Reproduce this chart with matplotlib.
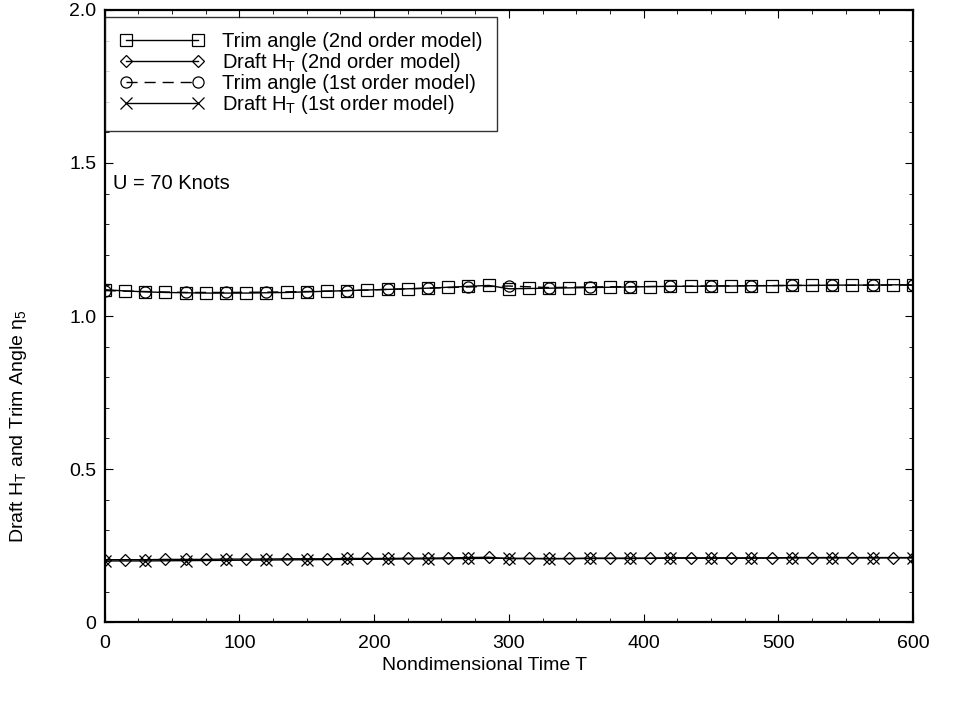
import numpy as np
import matplotlib.pyplot as plt
from matplotlib.ticker import MultipleLocator

plt.rcParams['font.family'] = ['Liberation Sans', 'DejaVu Sans']
plt.rcParams['mathtext.fontset'] = 'custom'
plt.rcParams['mathtext.rm'] = 'Liberation Sans'
plt.rcParams['mathtext.it'] = 'Liberation Sans'

# -----------------------------
# DATA
# -----------------------------
t_2nd = [0, 15, 30, 45, 60, 75, 90, 105, 120, 135, 150, 165, 180, 195, 210,
         225, 240, 255, 270, 285, 300, 315, 330, 345, 360, 375, 390, 405, 420,
         435, 450, 465, 480, 495, 510, 525, 540, 555, 570, 585, 600]
trim_2nd = [1.086, 1.082, 1.079, 1.077, 1.076, 1.075, 1.075, 1.075, 1.076, 1.077,
            1.079, 1.081, 1.083, 1.085, 1.087, 1.089, 1.091, 1.094, 1.097, 1.100,
            1.089, 1.090, 1.091, 1.092, 1.093, 1.094, 1.095, 1.096, 1.097, 1.097,
            1.098, 1.098, 1.099, 1.099, 1.100, 1.100, 1.101, 1.101, 1.101, 1.102, 1.102]
draft_2nd = [0.204, 0.204, 0.204, 0.205, 0.205, 0.205, 0.206, 0.206, 0.206, 0.207,
             0.207, 0.207, 0.208, 0.208, 0.208, 0.209, 0.209, 0.210, 0.211, 0.212,
             0.207, 0.208, 0.208, 0.208, 0.209, 0.209, 0.209, 0.209, 0.210, 0.210,
             0.210, 0.210, 0.210, 0.210, 0.211, 0.211, 0.211, 0.211, 0.211, 0.211, 0.211]

t_1st = [0, 30, 60, 90, 120, 150, 180, 210, 240, 270, 300, 330, 360, 390, 420,
         450, 480, 510, 540, 570, 600]
trim_1st = [1.083, 1.080, 1.077, 1.077, 1.078, 1.080, 1.083, 1.087, 1.091, 1.095,
            1.098, 1.093, 1.095, 1.096, 1.097, 1.098, 1.099, 1.100, 1.100, 1.101, 1.101]
draft_1st = [0.200, 0.200, 0.201, 0.202, 0.203, 0.204, 0.205, 0.206, 0.207, 0.208,
             0.209, 0.207, 0.208, 0.208, 0.209, 0.209, 0.209, 0.210, 0.210, 0.210, 0.210]

FS = 14.5

# -----------------------------
# PLOT
# -----------------------------
fig = plt.figure(figsize=(9.61, 7.07), dpi=100)
ax = fig.add_axes([0.109, 0.120, 0.841, 0.866])

mk = dict(color="black", markerfacecolor="none", markeredgecolor="black",
          markersize=8, markeredgewidth=0.9, linewidth=1.0)

ax.plot(t_2nd, trim_2nd, marker="s", linestyle="-",
        label="Trim angle (2nd order model)", **mk)
ax.plot(t_2nd, draft_2nd, marker="D", linestyle="-",
        label="Draft H$_T$ (2nd order model)", **{**mk, "markersize": 6.5})
ax.plot(t_1st, trim_1st, marker="o", linestyle=(0, (8, 5)),
        label="Trim angle (1st order model)", **mk)
ax.plot(t_1st, draft_1st, marker="x", linestyle="-",
        label="Draft H$_T$ (1st order model)", **mk)

ax.set_xlim(0, 600)
ax.set_ylim(0, 2.0)
ax.xaxis.set_major_locator(MultipleLocator(100))
ax.xaxis.set_minor_locator(MultipleLocator(25))
ax.yaxis.set_minor_locator(MultipleLocator(0.1))
ax.set_yticks([0, 0.5, 1.0, 1.5, 2.0])
ax.set_yticklabels(["0", "0.5", "1.0", "1.5", "2.0"])

ax.tick_params(which="both", direction="in", top=True, right=True, labelsize=14)
ax.tick_params(which="major", length=6)
ax.tick_params(axis="x", which="major", pad=9)
ax.tick_params(axis="y", which="major", pad=6)
ax.tick_params(which="minor", length=3)
for s in ax.spines.values():
    s.set_linewidth(1.6)

ax.set_xlabel("Nondimensional Time T", fontsize=14)
ax.set_ylabel("Draft H$_T$ and Trim Angle η$_5$", fontsize=14)
ax.xaxis.set_label_coords(0.47, -0.057)
ax.yaxis.set_label_coords(-0.094, 0.32)

ax.text(0.01, 0.717, "U = 70 Knots", transform=ax.transAxes, fontsize=FS,
        va="center")

leg = ax.legend(loc="upper left", bbox_to_anchor=(0.0, 0.989), numpoints=2,
                fontsize=FS, frameon=True, fancybox=False, edgecolor="black",
                handlelength=4.2, handletextpad=0.85, borderpad=0.75,
                labelspacing=0.0, borderaxespad=0.0)
leg.get_frame().set_linewidth(1.0)

plt.savefig("out.png", dpi=100)
